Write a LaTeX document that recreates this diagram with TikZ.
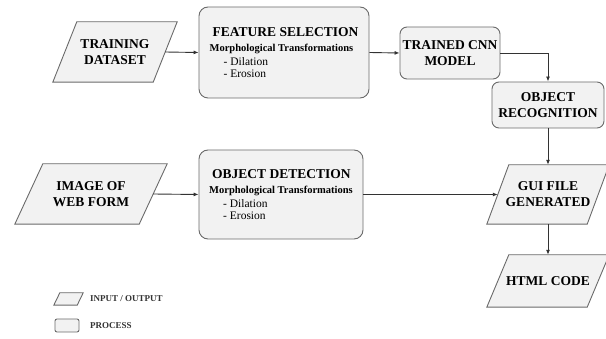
\documentclass[tikz,border=0pt]{standalone}
\usepackage{fontspec}
\setmainfont{Liberation Serif}
\usetikzlibrary{arrows.meta,backgrounds}
\definecolor{boxgray}{HTML}{6A6A6A}
\definecolor{boxfill}{HTML}{F2F2F2}
\definecolor{arrowgray}{HTML}{333333}
\newcommand\drawpara[2]{\draw[iobg] ([xshift=#2]#1.north west) -- (#1.north east) -- ([xshift=-#2]#1.south east) -- (#1.south west) -- cycle;}
\begin{document}
\begin{tikzpicture}[x=1pt,y=-1pt,
  proc/.style={draw=boxgray, fill=boxfill, line width=0.9pt, rounded corners=9pt, inner sep=0pt},
  bigproc/.style={proc, align=left, font=\fontsize{11.5}{12.5}\selectfont},
  smallproc/.style={proc, rounded corners=7pt, align=center, font=\fontsize{13.5}{16}\selectfont\bfseries},
  iotext/.style={inner sep=0pt, align=center, font=\fontsize{13.5}{16}\selectfont\bfseries},
  iobg/.style={draw=boxgray, fill=boxfill, line width=0.9pt},
  legtext/.style={anchor=west, inner sep=0pt, font=\fontsize{9}{10}\selectfont\bfseries, text=black!80},
  arr/.style={draw=arrowgray, line width=0.9pt, -{Latex[length=5pt,width=4pt]}}]
\useasboundingbox (0,0) rectangle (606,339);

% input / output nodes
\node[iotext, minimum width=124pt, minimum height=60pt] (train) at (115,52) {TRAINING\\DATASET};
\node[iotext, minimum width=152pt, minimum height=60pt] (img) at (91,194) {IMAGE OF\\WEB FORM};
\node[iotext, minimum width=122pt, minimum height=59pt] (gui) at (548,194.5) {GUI FILE\\GENERATED};
\node[iotext, minimum width=122pt, minimum height=52pt] (html) at (548,281) {HTML CODE};

% process nodes
\node[bigproc, minimum width=170pt, minimum height=91pt] (feat) at (284,52.5)
  {\hspace*{3pt}{\fontsize{13.5}{16}\selectfont\bfseries FEATURE SELECTION}\\[3pt]
   {\fontsize{10.5}{12}\selectfont\bfseries Morphological Transformations}\\[1pt]
   \hspace*{14pt}- Dilation\\
   \hspace*{14pt}- Erosion};
\node[bigproc, minimum width=164pt, minimum height=89pt] (detect) at (281,194.5)
  {\hspace*{3pt}{\fontsize{13.5}{16}\selectfont\bfseries OBJECT DETECTION}\\[3pt]
   {\fontsize{10.5}{12}\selectfont\bfseries Morphological Transformations}\\[1pt]
   \hspace*{14pt}- Dilation\\
   \hspace*{14pt}- Erosion};
\node[smallproc, minimum width=100pt, minimum height=52pt] (cnn) at (450,53) {TRAINED CNN\\MODEL};
\node[smallproc, minimum width=112pt, minimum height=46pt] (rec) at (548,105) {OBJECT\\RECOGNITION};

% legend
\node[inner sep=0pt, minimum width=29pt, minimum height=12pt] (legio) at (68.5,299) {};
\node[proc, rounded corners=2pt, minimum width=24pt, minimum height=13pt] (legproc) at (67,325.5) {};
\node[legtext] (legiotext) at (90,299) {INPUT / OUTPUT};
\node[legtext] (legproctext) at (90,326) {PROCESS};

\begin{scope}[on background layer]
  \drawpara{train}{24pt}
  \drawpara{img}{28pt}
  \drawpara{gui}{22pt}
  \drawpara{html}{22pt}
  \drawpara{legio}{6pt}
\end{scope}

% connectors
\draw[arr] ([xshift=-12pt]train.east) -- (feat.west);
\draw[arr] (feat.east) -- (cnn.west);
\draw[arr] (cnn.east) -| (rec.north);
\draw[arr] (rec.south) -- (gui.north);
\draw[arr] ([xshift=-14pt]img.east) -- (detect.west);
\draw[arr] (detect.east) -- ([xshift=11pt]gui.west);
\draw[arr] (gui.south) -- (html.north);
\end{tikzpicture}
\end{document}
